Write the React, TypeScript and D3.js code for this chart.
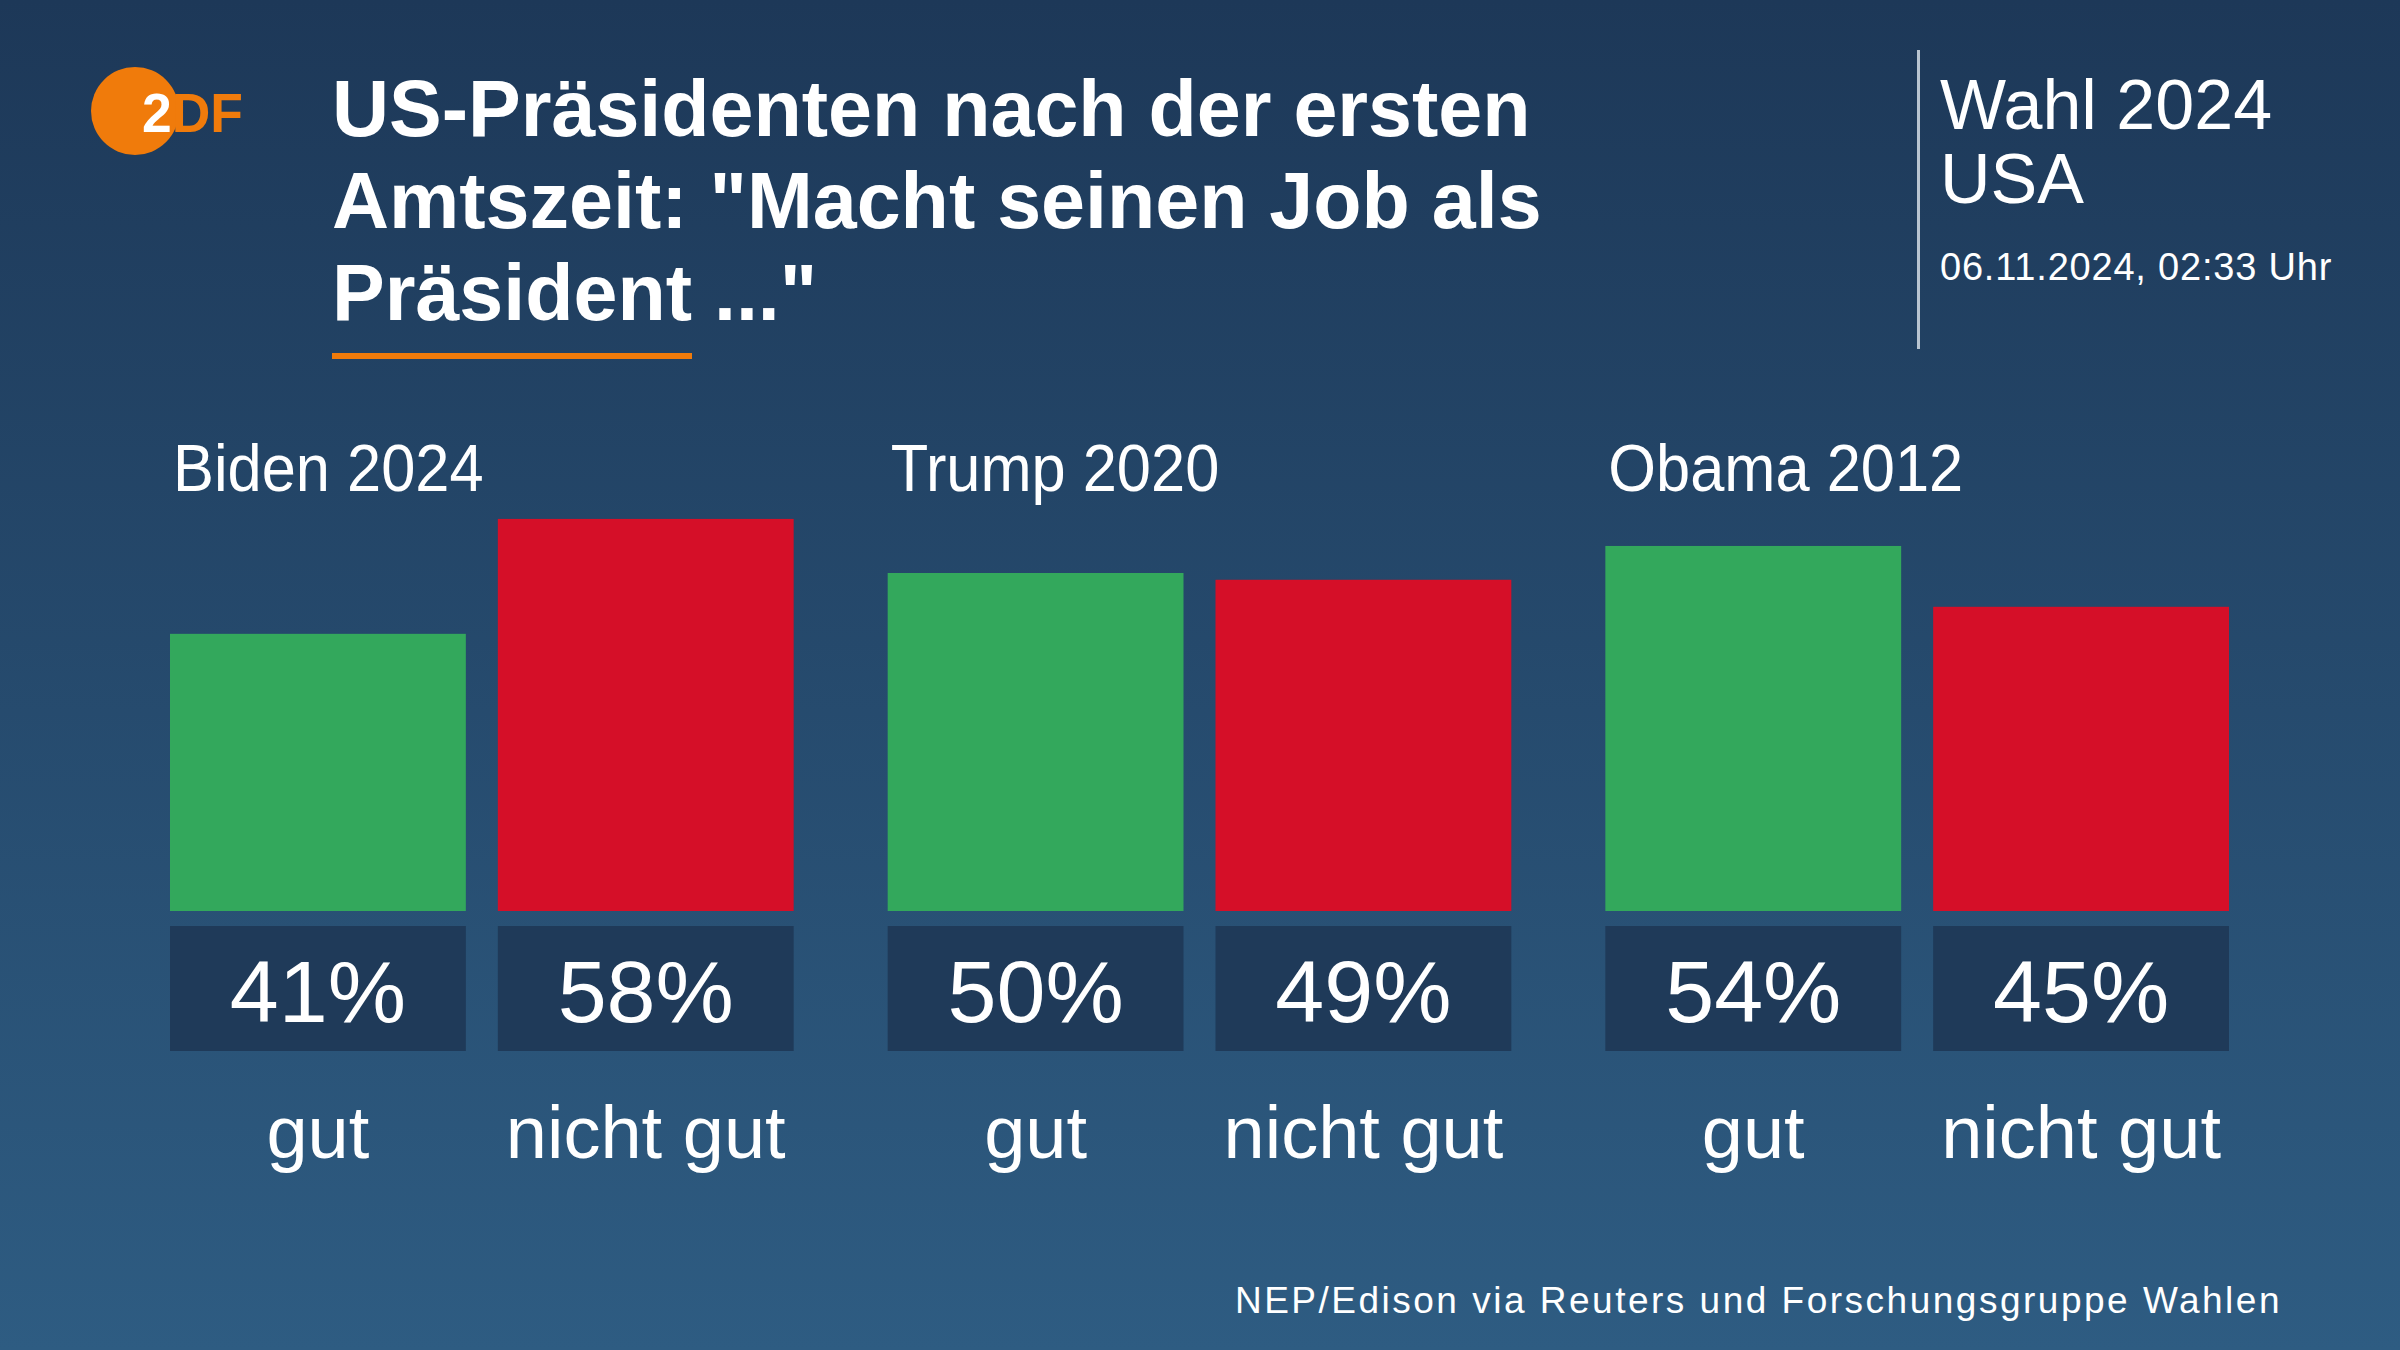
import React, { useEffect } from "react";
import * as d3 from "d3";

const groups = ["Biden 2024", "Trump 2020", "Obama 2012"];
const categories = ["gut", "nicht gut"];
const gutValues = [41, 50, 54];
const nichtGutValues = [58, 49, 45];
const titleLines = ["US-Präsidenten nach der ersten", "Amtszeit: \"Macht seinen Job als", "Präsident ...\""];
const headerLines = ["Wahl 2024", "USA"];
const dateText = "06.11.2024, 02:33 Uhr";
const sourceText = "NEP/Edison via Reuters und Forschungsgruppe Wahlen";

const W = 2400;
const H = 1350;
const FONT = "'Liberation Sans', Arial, sans-serif";
const colors = ["#33a85c", "#d50f28"];

export default function App() {
  useEffect(() => {
    document.body.style.margin = "0";
  }, []);

  const x0 = d3.scaleBand<string>().domain(groups).range([170, 2229]).paddingInner(0.131).paddingOuter(0);
  const x1 = d3.scaleBand<string>().domain(categories).range([0, x0.bandwidth()]).paddingInner(0.0976).paddingOuter(0);
  const y = d3.scaleLinear().domain([0, 100]).range([911, 235]);

  const data = groups.map((g, i) => ({ group: g, values: [gutValues[i], nichtGutValues[i]] }));

  return (
    <svg width={W} height={H} style={{ display: "block", position: "absolute", left: 0, top: 0 }}>
      <defs>
        <linearGradient id="bg" x1="0" y1="0" x2="0" y2="1">
          <stop offset="0%" stopColor="#1d3858" />
          <stop offset="100%" stopColor="#2e5c82" />
        </linearGradient>
      </defs>
      <rect x={0} y={0} width={W} height={H} fill="url(#bg)" />

      {/* Logo */}
      <circle cx={135} cy={111} r={44} fill="#f07b0b" />
      <text x={142} y={132} fontFamily={FONT} fontWeight="bold" fontSize={55} textLength={101} lengthAdjust="spacingAndGlyphs">
        <tspan fill="#ffffff">2</tspan>
        <tspan fill="#f07b0b">DF</tspan>
      </text>

      {/* Title */}
      {titleLines.map((t, i) => (
        <text key={i} x={332} y={136 + i * 92} fill="#ffffff" fontFamily={FONT} fontWeight="bold" fontSize={79}>
          {t}
        </text>
      ))}
      <rect x={332} y={353} width={360} height={6} fill="#f07b0b" />

      {/* Right header */}
      <rect x={1917} y={50} width={3} height={299} fill="#b8c4d0" />
      {headerLines.map((t, i) => (
        <text key={i} x={1940} y={129 + i * 74} fill="#ffffff" fontFamily={FONT} fontSize={70}>
          {t}
        </text>
      ))}
      <text x={1940} y={280} fill="#ffffff" fontFamily={FONT} fontSize={38} letterSpacing={0.8}>
        {dateText}
      </text>

      {/* Bars */}
      {data.map((d) => {
        const gx = x0(d.group)!;
        return (
          <g key={d.group} transform={`translate(${gx},0)`}>
            <text transform="translate(3,491) scale(0.93,1)" fill="#ffffff" fontFamily={FONT} fontSize={66}>
              {d.group}
            </text>
            {categories.map((c, j) => {
              const bx = x1(c)!;
              const bw = x1.bandwidth();
              const v = d.values[j];
              return (
                <g key={c}>
                  <rect x={bx} y={y(v)} width={bw} height={y(0) - y(v)} fill={colors[j]} />
                  <rect x={bx} y={926} width={bw} height={125} fill="#1f3a59" />
                  <text x={bx + bw / 2} y={1022} textAnchor="middle" fill="#ffffff" fontFamily={FONT} fontSize={88}>
                    {`${v}%`}
                  </text>
                  <text x={bx + bw / 2} y={1158} textAnchor="middle" fill="#ffffff" fontFamily={FONT} fontSize={74}>
                    {c}
                  </text>
                </g>
              );
            })}
          </g>
        );
      })}

      {/* Source */}
      <text x={2282} y={1313} textAnchor="end" fill="#ffffff" fontFamily={FONT} fontSize={37} letterSpacing={2.5}>
        {sourceText}
      </text>
    </svg>
  );
}
